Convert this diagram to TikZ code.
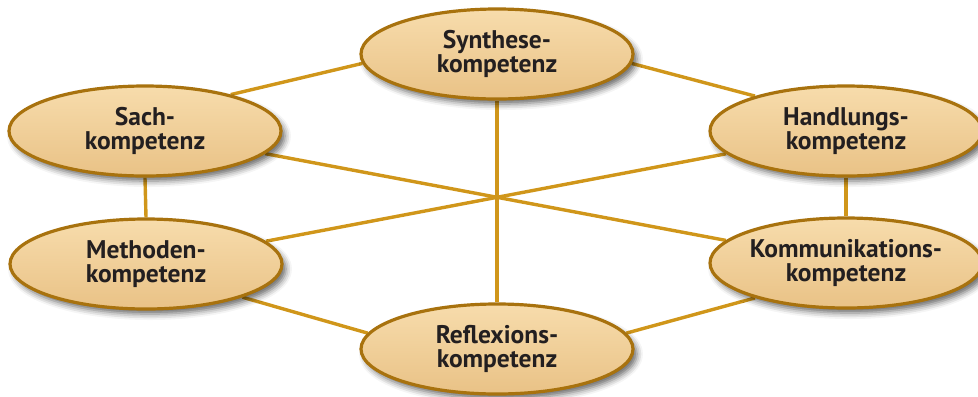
\documentclass[tikz,border=0pt]{standalone}
\usepackage{fontspec}
\setmainfont{PT Sans}
\usetikzlibrary{shapes.geometric,shadows.blur,backgrounds}
\definecolor{linkgold}{HTML}{D0961A}
\definecolor{rimbrown}{HTML}{A8720E}
\definecolor{fillhi}{HTML}{F7DCAC}
\definecolor{fillmid}{HTML}{F3D29C}
\definecolor{filllo}{HTML}{E9C286}
\definecolor{inktext}{HTML}{231F20}
\begin{document}
\begin{tikzpicture}[x=1bp,y=-1bp,
  komp/.style={ellipse, draw=rimbrown, line width=3.2bp,
    minimum width=272bp, minimum height=90bp, inner sep=0pt,
    top color=fillhi, middle color=fillmid, bottom color=filllo,
    align=center, text=inktext,
    font=\bfseries\fontsize{25.5bp}{23.5bp}\selectfont,
    % a tall strut on the first line sets the text a little low
    execute at begin node={\rule{0pt}{24bp}},
    blur shadow={shadow xshift=4bp, shadow yshift=-5bp,
      shadow blur radius=6bp, shadow opacity=60}},
  link/.style={draw=linkgold, line width=3.4bp}]
\useasboundingbox (0,0) rectangle (978,396);

% the six competences
\node[komp] (syn)  at (497,54)  {Synthese-\\kompetenz};
\node[komp] (sach) at (145,131) {Sach-\\kompetenz};
\node[komp] (hand) at (846,131) {Handlungs-\\kompetenz};
\node[komp] (meth) at (146,264) {Methoden-\\kompetenz};
\node[komp] (komm) at (846,263) {Kommunikations-\\kompetenz};
\node[komp] (refl) at (497,349) {Reflexions-\\kompetenz};

% connecting lines, kept behind the ellipses
\begin{scope}[on background layer]
  % outer ring
  \draw[link] (sach.23)   -- (syn.184);
  \draw[link] (syn.356)   -- (hand.159);
  \draw[link] (sach.south) -- (meth.north);
  \draw[link] (hand.south) -- (komm.north);
  \draw[link] (meth.341)  -- (refl.173);
  \draw[link] (refl.7)    -- (komm.201);
  % three axes through the middle
  \draw[link] (syn.south) -- (refl.north);
  \draw[link] (sach) -- (komm);
  \draw[link] (hand) -- (meth);
\end{scope}
\end{tikzpicture}
\end{document}
